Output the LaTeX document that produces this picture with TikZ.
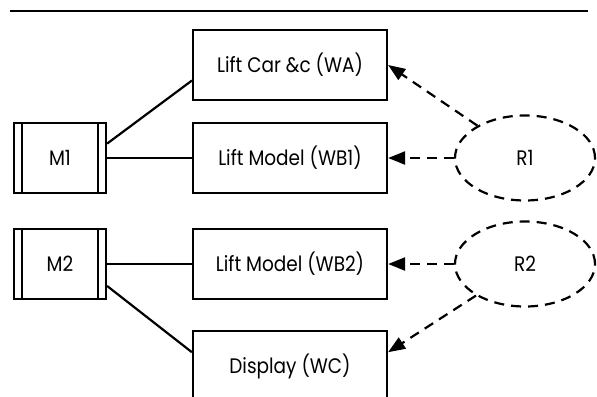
\documentclass[tikz,border=0pt]{standalone}
\usepackage{fontspec}
\setmainfont{Poppins}[FakeStretch=0.88]
\usetikzlibrary{arrows.meta}
\usetikzlibrary{shapes}

\begin{document}
\begin{tikzpicture}[
		x=0.5pt, y=-0.5pt,
		line width=1.1pt,
		>={Triangle[length=8.5pt,width=6.5pt]},
		font=\fontsize{10.5}{12}\selectfont,
		dashy/.style={dash pattern=on 5pt off 3.5pt},
	]
		\clip (0, 0) rectangle (597, 396);
		\draw (10, 11) -- (588, 11);

		% machines
		\begin{scope}[every node/.style={draw,minimum width=46pt,minimum height=35pt,inner sep=0pt}]
			\node (M1) at (60, 158) {M1};
			\node (M2) at (60, 264) {M2};
		\end{scope}
		\foreach \m in {M1, M2} {
			\draw ([xshift=4.5pt]\m.north west) -- ([xshift=4.5pt]\m.south west);
			\draw ([xshift=-4.5pt]\m.north east) -- ([xshift=-4.5pt]\m.south east);
		}

		% domains
		\begin{scope}[every node/.style={draw,minimum width=97pt,minimum height=35pt,inner sep=0pt}]
			\node (WA) at (290, 65) {Lift Car \&c (WA)};
			\node (WB1) at (290, 158) {Lift Model (WB1)};
			\node (WB2) at (290, 264) {Lift Model (WB2)};
			\node (WC) at (290, 366) {Display (WC)};
		\end{scope}

		% requirements
		\begin{scope}[every node/.style={ellipse,draw,dashy,minimum width=70pt,minimum height=42.5pt,inner sep=0pt}]
			\node (R1) at (525, 158) {R1};
			\node (R2) at (525, 264) {R2};
		\end{scope}

		% interfaces
		\path (M1.17) edge (WA.189);
		\path (M1) edge (WB1);
		\path (M2) edge (WB2);
		\path (M2.-25) edge (WC.172);

		% references
		\path [->, dashy] (R1) edge (WA.east);
		\path [->, dashy] (R1) edge (WB1);
		\path [->, dashy] (R2) edge (WB2);
		\path [->, dashy] (R2) edge (WC.8);
	\end{tikzpicture}
\end{document}
